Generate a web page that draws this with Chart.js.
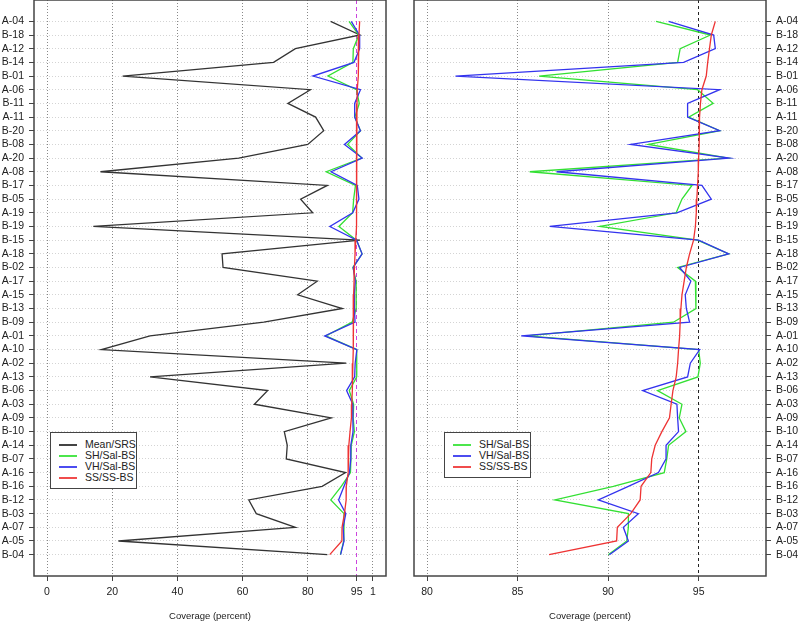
<!DOCTYPE html>
<html>
<head>
<meta charset="UTF-8">
<title>Coverage by site</title>
<script src="https://cdn.jsdelivr.net/npm/chart.js@4"></script>
<style>
    body {
        margin: 0;
        background: #fff;
        font-family: 'Liberation Sans', Arial, sans-serif;
        overflow: hidden;
    }
    .panel {
        position: absolute;
        top: 0;
    }
    .legend {
        position: absolute;
        box-sizing: border-box;
        border: 1px solid #444;
        background: #fff;
        padding-top: 6px;
        font-size: 10.5px;
        color: #222;
    }
    .legend .row {
        position: relative;
        height: 11px;
        line-height: 11px;
        white-space: nowrap;
        padding-left: 34px;
    }
    .legend .swatch {
        position: absolute;
        left: 8px;
        top: 5px;
        width: 18px;
        height: 2px;
    }
</style>
</head>
<body>
<canvas id="leftChart" class="panel" width="400" height="622" style="left:0"></canvas>
<canvas id="rightChart" class="panel" width="400" height="622" style="left:400px"></canvas>

<div class="legend" style="left:50px; top:432px; width:87px; height:57px">
    <div class="row"><span class="swatch" style="background:#444"></span>Mean/SRS</div>
    <div class="row"><span class="swatch" style="background:#4ce64c"></span>SH/Sal-BS</div>
    <div class="row"><span class="swatch" style="background:#4c4cf0"></span>VH/Sal-BS</div>
    <div class="row"><span class="swatch" style="background:#f04c4c"></span>SS/SS-BS</div>
</div>
<div class="legend" style="left:444px; top:432px; width:87px; height:46px">
    <div class="row"><span class="swatch" style="background:#4ce64c"></span>SH/Sal-BS</div>
    <div class="row"><span class="swatch" style="background:#4c4cf0"></span>VH/Sal-BS</div>
    <div class="row"><span class="swatch" style="background:#f04c4c"></span>SS/SS-BS</div>
</div>

<script>
    // sites, top to bottom
    const sites = ['A-04','B-18','A-12','B-14','B-01','A-06','B-11','A-11','B-20','B-08',
        'A-20','A-08','B-17','B-05','A-19','B-19','B-15','A-18','B-02','A-17',
        'A-15','B-13','B-09','A-01','A-10','A-02','A-13','B-06','A-03','A-09',
        'B-10','A-14','B-07','A-16','B-16','B-12','B-03','A-07','A-05','B-04'];

    const meanSRS = [87.0, 96.0, 76.2, 69.5, 23.2, 80.8, 73.9, 82.4, 84.9, 80.0,
        58.8, 16.4, 86.0, 77.8, 81.5, 14.2, 96.0, 53.7, 54.0, 82.9,
        76.9, 90.6, 66.5, 31.6, 16.7, 91.8, 31.6, 67.7, 63.6, 87.2,
        72.8, 73.7, 73.4, 91.6, 84.4, 61.9, 64.2, 76.2, 21.9, 86.0];

    const shSal = [92.65, 95.65, 93.98, 93.84, 86.19, 94.94, 95.8, 94.45, 96.16, 92.23,
        96.6, 85.67, 94.63, 94.08, 93.76, 89.55, 94.94, 96.66, 93.84, 94.82,
        94.85, 94.85, 93.61, 85.5, 95.0, 95.09, 94.96, 92.73, 94.08, 93.93,
        94.3, 93.34, 93.24, 93.1, 90.29, 87.06, 91.12, 91.12, 91.03, 90.01];

    const vhSal = [93.34, 95.83, 95.92, 94.17, 81.57, 96.16, 94.39, 94.39, 96.16, 91.25,
        96.7, 87.15, 95.18, 95.7, 93.8, 86.78, 95.0, 96.66, 93.95, 94.57,
        94.26, 94.32, 94.5, 85.2, 95.06, 94.54, 94.39, 91.91, 93.8, 93.84,
        93.89, 93.2, 93.2, 92.78, 91.12, 89.46, 91.67, 90.84, 91.12, 90.07];

    const ssSS = [95.92, 95.7, 95.6, 95.5, 95.42, 95.18, 95.1, 95.05, 95.04, 95.02,
        95.0, 94.98, 94.94, 94.9, 94.87, 94.82, 94.72, 94.5, 94.32, 94.2,
        94.08, 94.02, 93.98, 93.95, 93.89, 93.84, 93.76, 93.58, 93.48, 93.39,
        92.97, 92.6, 92.41, 92.36, 91.82, 91.77, 91.25, 90.51, 90.47, 86.74];

    const leftTicks = [0, 20, 40, 60, 80, 95, 100];
    const leftTickLabels = ['0', '20', '40', '60', '80', '95', '1'];
    const rightTicks = [80, 85, 90, 95];
    const target = 95;

    const FONT = "'Liberation Sans', Arial, sans-serif";
    const pad = sites.length * 0.04 - 0.04;   // R style 4% axis extension

    function toPoints(vals) {
        return vals.map((v, i) => ({x: v, y: i}));
    }

    function series(label, vals, color, order) {
        return {
            label: label,
            data: toPoints(vals),
            borderColor: color,
            borderWidth: 1.3,
            pointRadius: 0,
            showLine: true,
            fill: false,
            tension: 0,
            order: order
        };
    }

    // box around plot area like base graphics
    const boxPlugin = {
        id: 'box',
        afterDraw(chart) {
            const a = chart.chartArea;
            const ctx = chart.ctx;
            ctx.save();
            ctx.strokeStyle = '#444';
            ctx.lineWidth = 1.5;
            ctx.strokeRect(a.left, a.top, a.right - a.left, a.bottom - a.top);
            ctx.restore();
        }
    };

    function makeOptions(side, xmin, xmax, ticks, labels, refColor, refDash) {
        return {
            responsive: false,
            animation: false,
            devicePixelRatio: 1,
            layout: {padding: side === 'left' ? {left: 0, right: 14, top: 0, bottom: 0} : {left: 14, right: 0, top: 0, bottom: 0}},
            plugins: {legend: {display: false}, tooltip: {enabled: false}},
            scales: {
                x: {
                    type: 'linear',
                    min: xmin,
                    max: xmax,
                    afterBuildTicks: s => { s.ticks = ticks.map(v => ({value: v})); },
                    afterFit: s => { s.height = 46; s.paddingLeft = 0; s.paddingRight = 0; },
                    ticks: {
                        autoSkip: false,
                        maxRotation: 0,
                        padding: 5,
                        color: '#222',
                        font: {family: FONT, size: 10.5},
                        callback: (v, i) => labels[i]
                    },
                    grid: {
                        color: c => (c.tick && c.tick.value === target) ? refColor : '#888',
                        lineWidth: 1,
                        tickLength: 5,
                        tickColor: '#444',
                        tickBorderDash: []
                    },
                    border: {
                        display: false,
                        dash: c => (c.tick && c.tick.value === target) ? refDash : [1, 2]
                    },
                    title: {
                        display: true,
                        text: 'Coverage (percent)',
                        color: '#222',
                        font: {family: FONT, size: 9.5},
                        padding: {top: 0, bottom: 0}
                    }
                },
                y: {
                    type: 'linear',
                    position: side,
                    reverse: true,
                    min: -pad,
                    max: sites.length - 1 + pad,
                    afterBuildTicks: s => { s.ticks = sites.map((c, i) => ({value: i})); },
                    afterFit: s => { s.width = 34; s.paddingTop = 0; s.paddingBottom = 0; },
                    ticks: {
                        autoSkip: false,
                        padding: 5,
                        color: '#222',
                        font: {family: FONT, size: 10.5},
                        callback: (v) => sites[v]
                    },
                    grid: {
                        color: '#d4d4d4',
                        lineWidth: 1,
                        tickLength: 5,
                        tickColor: '#444',
                        tickBorderDash: []
                    },
                    border: {display: false, dash: [1, 2]}
                }
            }
        };
    }

    new Chart(document.getElementById('leftChart'), {
        type: 'scatter',
        data: {
            datasets: [
                series('Mean/SRS', meanSRS, '#333333', 3),
                series('SH/Sal-BS', shSal, '#33e033', 2),
                series('VH/Sal-BS', vhSal, '#3333ee', 1),
                series('SS/SS-BS', ssSS, '#ee3333', 0)
            ]
        },
        options: makeOptions('left', -4, 104, leftTicks, leftTickLabels, '#cc44dd', [4, 3]),
        plugins: [boxPlugin]
    });

    new Chart(document.getElementById('rightChart'), {
        type: 'scatter',
        data: {
            datasets: [
                series('SH/Sal-BS', shSal, '#33e033', 2),
                series('VH/Sal-BS', vhSal, '#3333ee', 1),
                series('SS/SS-BS', ssSS, '#ee3333', 0)
            ]
        },
        options: makeOptions('right', 79.28, 98.72, rightTicks, rightTicks.map(String), '#222', [3, 3]),
        plugins: [boxPlugin]
    });
</script>
</body>
</html>
